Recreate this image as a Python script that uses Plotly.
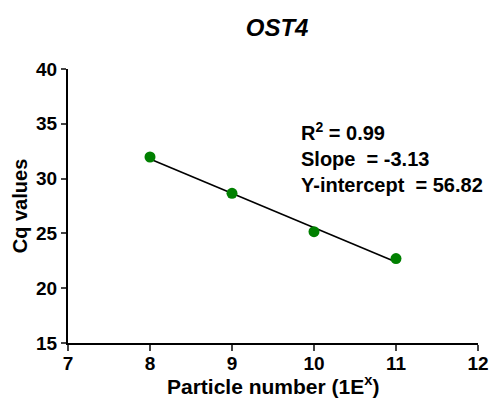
import plotly.graph_objects as go

particle_exp = [8, 9, 10, 11]
cq_values = [31.97, 28.66, 25.16, 22.70]
slope = -3.13
intercept = 56.82
r2 = 0.99
x_ticks = [7, 8, 9, 10, 11, 12]
y_ticks = [15, 20, 25, 30, 35, 40]

line_x = [particle_exp[0], particle_exp[-1]]
line_y = [slope * v + intercept for v in line_x]

font = "Arial, Liberation Sans, sans-serif"

fig = go.Figure()
fig.add_trace(go.Scatter(x=line_x, y=line_y, mode="lines",
                         line=dict(color="black", width=1.6), showlegend=False))
fig.add_trace(go.Scatter(x=particle_exp, y=cq_values, mode="markers",
                         marker=dict(color="#008000", size=11), showlegend=False))

fig.update_layout(
    width=504, height=416,
    margin=dict(l=60, r=34, t=61, b=81),
    paper_bgcolor="white", plot_bgcolor="white",
    font=dict(family=font, color="black", size=18),
    title=dict(text="<b><i>OST4</i></b>", x=0.534, xanchor="center", y=0.952, yanchor="middle",
               font=dict(size=24, family=font)),
    annotations=[
        dict(x=9.82, y=35.6, xref="x", yref="y", xanchor="left", yanchor="top",
             align="left", showarrow=False,
             text=(f"<b>R<sup>2</sup> = {r2:.2f}</b><br><b>Slope&nbsp; = {slope:.2f}</b><br>"
                   f"<b>Y-intercept&nbsp; = {intercept:.2f}</b>"),
             font=dict(size=20, family=font, color="black")),
        dict(x=0.5, y=-0.155, xref="paper", yref="paper", xanchor="center", yanchor="middle",
             showarrow=False, text="<b>Particle number (1E<sup>x</sup>)</b>",
             font=dict(size=21, family=font, color="black")),
    ],
)
fig.update_xaxes(range=[7, 12], tickvals=x_ticks, ticktext=[f"<b>{v}</b>" for v in x_ticks],
                 ticks="outside", ticklen=6, tickwidth=2, ticklabelstandoff=-4,
                 showline=True, linecolor="black", linewidth=2, showgrid=False, zeroline=False,
                 automargin=False,
                 tickfont=dict(size=19, family=font, weight="bold"))
fig.update_yaxes(range=[15, 40], tickvals=y_ticks, ticktext=[f"<b>{v}</b>" for v in y_ticks],
                 ticks="outside", ticklen=5, tickwidth=2,
                 showline=True, linecolor="black", linewidth=2, showgrid=False, zeroline=False,
                 automargin=False,
                 tickfont=dict(size=19, family=font, weight="bold"),
                 title=dict(text="<b>Cq values</b>", standoff=3,
                            font=dict(size=20, family=font)))

fig.write_html("out.html")
